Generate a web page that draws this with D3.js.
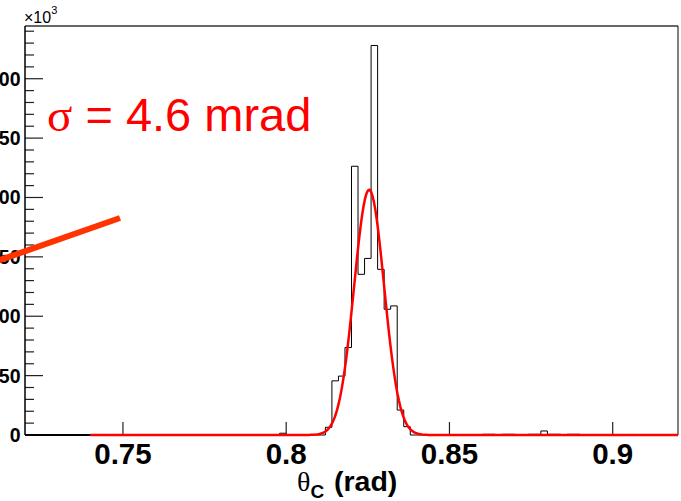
<!DOCTYPE html>
<html>
<head>
<meta charset="utf-8">
<script src="https://cdn.jsdelivr.net/npm/d3@7"></script>
<style>
  html, body { margin: 0; padding: 0; background: #fff; }
  svg { display: block; }
</style>
</head>
<body>
<svg id="chart" width="681" height="501"></svg>
<script>
// Cherenkov angle histogram: 100 bins of 2 mrad from 0.72 to 0.92 rad
const binLow = 0.72;
const binWidth = 0.002;
const binCounts = [
  0, 0, 0, 0, 0, 0, 0, 0, 0, 0,
  0, 0, 0, 0, 0, 0, 0, 0, 0, 0,
  0, 0, 0, 0, 0, 0, 0, 0, 0, 0,
  0, 0, 0, 0, 0, 0, 0, 0, 0, 1500,
  0, 0, 0, 0, 0, 0, 6500, 45600, 49600, 73700,
  226300, 135300, 148700, 328000, 139500, 105900, 108700, 21000, 7000, 0,
  0, 0, 0, 0, 0, 0, 0, 0, 0, 0,
  600, 600, 0, 600, 600, 0, 0, 600, 600, 3400,
  600, 600, 0, 600, 600, 0, 0, 0, 0, 0,
  0, 0, 0, 0, 0, 0, 0, 0, 0, 0
];

// Gaussian fit result
const fitConst = 206500;
const fitMean = 0.8254;
const fitSigma = 0.0046;
const fitRange = [0.74, 0.92];

// Axis ticks
const xTicks = [0.75, 0.8, 0.85, 0.9];
const xTickLabels = ["0.75", "0.8", "0.85", "0.9"];
const yTicks = [0, 50000, 100000, 150000, 200000, 250000, 300000];
const yTickLabels = ["0", "50", "100", "150", "200", "250", "300"];

const svg = d3.select("#chart");
const frame = { left: 25, right: 678, top: 26, bottom: 435 };

const x = d3.scaleLinear()
  .domain([binLow, binLow + binWidth * binCounts.length])
  .range([frame.left, frame.right]);
const y = d3.scaleLinear()
  .domain([0, 1.05 * d3.max(binCounts)])
  .range([frame.bottom, frame.top]);

const sans = "'Liberation Sans', Arial, Helvetica, sans-serif";
const serif = "'Liberation Serif', 'Times New Roman', serif";

svg.append("rect").attr("width", 681).attr("height", 501).attr("fill", "#fff");

// Frame top and right edges
svg.append("line")
  .attr("x1", frame.left).attr("x2", frame.right)
  .attr("y1", frame.top).attr("y2", frame.top)
  .attr("stroke", "#333").attr("stroke-width", 1.5);
svg.append("line")
  .attr("x1", frame.right).attr("x2", frame.right)
  .attr("y1", frame.top).attr("y2", frame.bottom)
  .attr("stroke", "#000").attr("stroke-width", 1);

// Histogram outline as a step path
const steps = [[binLow, 0]];
binCounts.forEach((c, i) => {
  const lo = binLow + i * binWidth;
  steps.push([lo, c]);
  steps.push([lo + binWidth, c]);
});
steps.push([binLow + binWidth * binCounts.length, 0]);

svg.append("path")
  .datum(steps)
  .attr("fill", "none")
  .attr("stroke", "#000")
  .attr("stroke-width", 1)
  .attr("d", d3.line().x(d => x(d[0])).y(d => y(d[1])));

// Y axis: majors every 50k, five subdivisions, ticks pointing inward
const yMinor = d3.range(0, y.domain()[1], 10000);
svg.append("g").selectAll("line")
  .data(yMinor)
  .join("line")
  .attr("x1", frame.left)
  .attr("x2", d => frame.left + (d % 50000 === 0 ? 18 : 9))
  .attr("y1", d => y(d)).attr("y2", d => y(d))
  .attr("stroke", "#222").attr("stroke-width", 1.2);

svg.append("g").selectAll("text")
  .data(yTicks)
  .join("text")
  .attr("x", frame.left - 4.5)
  .attr("y", d => y(d) + 7)
  .attr("text-anchor", "end")
  .attr("font-family", sans)
  .attr("font-weight", "bold")
  .attr("font-size", 19.5)
  .attr("fill", "#000")
  .text((d, i) => yTickLabels[i]);

// Exponent label
const expo = svg.append("text")
  .attr("x", frame.left - 1)
  .attr("y", 23)
  .attr("font-family", sans)
  .attr("font-size", 16)
  .attr("fill", "#000");
expo.append("tspan").text("\u00d710");
expo.append("tspan").attr("font-size", 11).attr("dy", -9).text("3");

// X axis ticks
svg.append("g").selectAll("line")
  .data(xTicks)
  .join("line")
  .attr("x1", d => x(d)).attr("x2", d => x(d))
  .attr("y1", frame.bottom).attr("y2", frame.bottom - 13)
  .attr("stroke", "#222").attr("stroke-width", 1.2);

svg.append("g").selectAll("text")
  .data(xTicks)
  .join("text")
  .attr("x", d => x(d))
  .attr("y", 463.5)
  .attr("text-anchor", "middle")
  .attr("font-family", sans)
  .attr("font-weight", "bold")
  .attr("font-size", 29.5)
  .attr("fill", "#000")
  .text((d, i) => xTickLabels[i]);

// Axis title
const title = svg.append("text")
  .attr("x", 297)
  .attr("y", 491)
  .attr("fill", "#000");
title.append("tspan").attr("font-family", serif).attr("font-size", 28).text("\u03b8");
title.append("tspan").attr("font-family", sans).attr("font-weight", "bold")
  .attr("font-size", 19).attr("dy", 7).text("C");
title.append("tspan").attr("font-family", sans).attr("font-weight", "bold")
  .attr("font-size", 28.5).attr("dy", -7).attr("x", 334).text("(rad)");

// Gaussian fit curve
const fitPts = d3.range(0, 401).map(i => {
  const t = fitRange[0] + (fitRange[1] - fitRange[0]) * i / 400;
  return [t, fitConst * Math.exp(-0.5 * ((t - fitMean) / fitSigma) ** 2)];
});
svg.append("path")
  .datum(fitPts)
  .attr("fill", "none")
  .attr("stroke", "#ff0000")
  .attr("stroke-width", 2.5)
  .attr("d", d3.line().x(d => x(d[0])).y(d => y(d[1])));

// Axis lines
svg.append("line")
  .attr("x1", frame.left).attr("x2", frame.left)
  .attr("y1", frame.top).attr("y2", frame.bottom)
  .attr("stroke", "#000").attr("stroke-width", 1.5);
svg.append("line")
  .attr("x1", frame.left).attr("x2", x(fitRange[0]))
  .attr("y1", frame.bottom).attr("y2", frame.bottom)
  .attr("stroke", "#000").attr("stroke-width", 2);

// Resolution annotation
const sig = svg.append("text")
  .attr("x", 47)
  .attr("y", 131)
  .attr("fill", "#ff0000")
  .attr("font-size", 47);
sig.append("tspan").attr("font-family", serif).text("\u03c3");
sig.append("tspan").attr("font-family", sans).text(" = " + (fitSigma * 1000).toFixed(1) + " mrad");

// Pointer line
svg.append("line")
  .attr("x1", -10).attr("y1", 263.5)
  .attr("x2", 120).attr("y2", 218)
  .attr("stroke", "#ff3300")
  .attr("stroke-width", 6);
</script>
</body>
</html>
